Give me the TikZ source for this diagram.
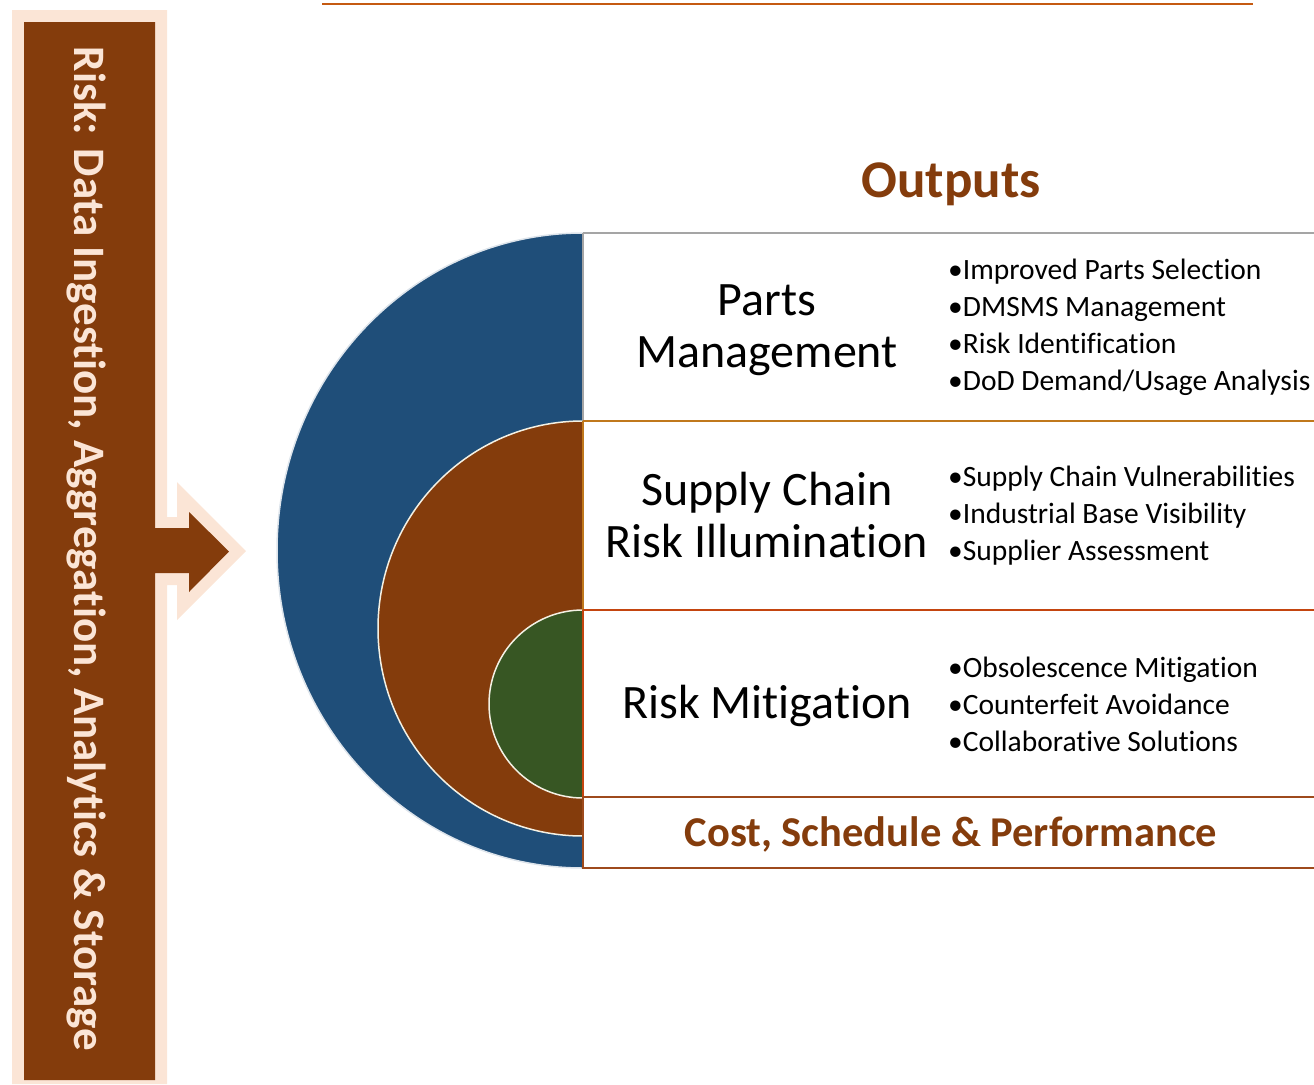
\documentclass[tikz,border=0pt]{standalone}
\usepackage{fontspec}
\setmainfont[Ligatures=NoCommon]{Carlito}
\definecolor{peach}{HTML}{FBE5D6}
\definecolor{rust}{HTML}{843C0C}
\definecolor{navy}{HTML}{1F4E79}
\definecolor{leaf}{HTML}{375623}
\definecolor{topline}{HTML}{C55A11}
\definecolor{graylin}{HTML}{A5A5A5}
\definecolor{goldlin}{HTML}{C0781C}
\definecolor{redlin}{HTML}{C4450F}
\definecolor{brnlin}{HTML}{9E4A1C}
\definecolor{edgecream}{HTML}{F4F1E4}
\tikzset{
  rowtitle/.style={font=\fontsize{48}{52}\selectfont, align=center, text=black, inner sep=0pt},
  bullets/.style={font=\fontsize{29.5}{37}\selectfont, align=left, anchor=west, text=black, inner sep=0pt},
  headtxt/.style={text=rust, inner sep=0pt},
}
\begin{document}
\begin{tikzpicture}[x=1pt,y=-1pt]
\useasboundingbox (0,0) rectangle (1314,1084);
% top line
\draw[topline, line width=1.6pt] (322,4) -- (1253,4);
% left bar with arrow
\fill[peach] (12,10) -- (167,10) -- (167,517) -- (177,517) -- (177,482) -- (246,551) -- (177,620) -- (177,585) -- (167,585) -- (167,1084) -- (12,1084) -- cycle;
\fill[rust] (24,22) -- (155,22) -- (155,528) -- (189,528) -- (189,512) -- (229,551.5) -- (189,592) -- (189,573) -- (155,573) -- (155,1080) -- (24,1080) -- cycle;
\node[rotate=-90, text=peach, font=\fontsize{45}{50}\bfseries, inner sep=0pt] (risk) at (86,549) {Risk: Data Ingestion, Aggregation, Analytics \& Storage};
% half discs
\begin{scope}
\clip (0,0) rectangle (583,1084);
\fill[navy, draw=white!85!navy, line width=1.5pt] (583,550.5) ellipse[x radius=306, y radius=317.5];
\fill[rust, draw=edgecream, line width=1.5pt] (583,628.5) ellipse[x radius=205, y radius=207.5];
\fill[leaf, draw=edgecream, line width=1.5pt] (583,704) ellipse[x radius=94, y radius=94];
\end{scope}
% table
\fill[white] (583,233) rectangle (1314,868);
\draw[graylin, line width=2pt] (583,233) -- (1314,233);
\draw[graylin, line width=2pt] (583,233) -- (583,421);
\draw[goldlin, line width=2pt] (583,421) -- (1314,421);
\draw[goldlin, line width=2pt] (583,421) -- (583,610);
\draw[redlin, line width=2pt] (583,610) -- (1314,610);
\draw[redlin, line width=2pt] (583,610) -- (583,797);
\draw[brnlin, line width=2pt] (583,797) -- (1314,797);
\draw[brnlin, line width=2pt] (583,797) -- (583,868) -- (1314,868);
% headings
\node[headtxt, font=\fontsize{53}{58}\bfseries\selectfont] (outputs) at (951,184) {Outputs};
\node[headtxt, font=\fontsize{42.5}{48}\bfseries\selectfont] (csp) at (951,834) {Cost, Schedule \& Performance};
% row titles
\node[rowtitle] (pm) at (767,330) {Parts\\Management};
\node[rowtitle] (sc) at (767,515) {Supply Chain\\Risk Illumination};
\node[rowtitle] (rm) at (767,706) {Risk Mitigation};
% bullets
\node[bullets] (b1) at (948,327) {•Improved Parts Selection\\•DMSMS Management\\•Risk Identification\\•DoD Demand/Usage Analysis};
\node[bullets] (b2) at (948,516) {•Supply Chain Vulnerabilities\\•Industrial Base Visibility\\•Supplier Assessment};
\node[bullets] (b3) at (948,704) {•Obsolescence Mitigation\\•Counterfeit Avoidance\\•Collaborative Solutions};
\end{tikzpicture}
\end{document}
